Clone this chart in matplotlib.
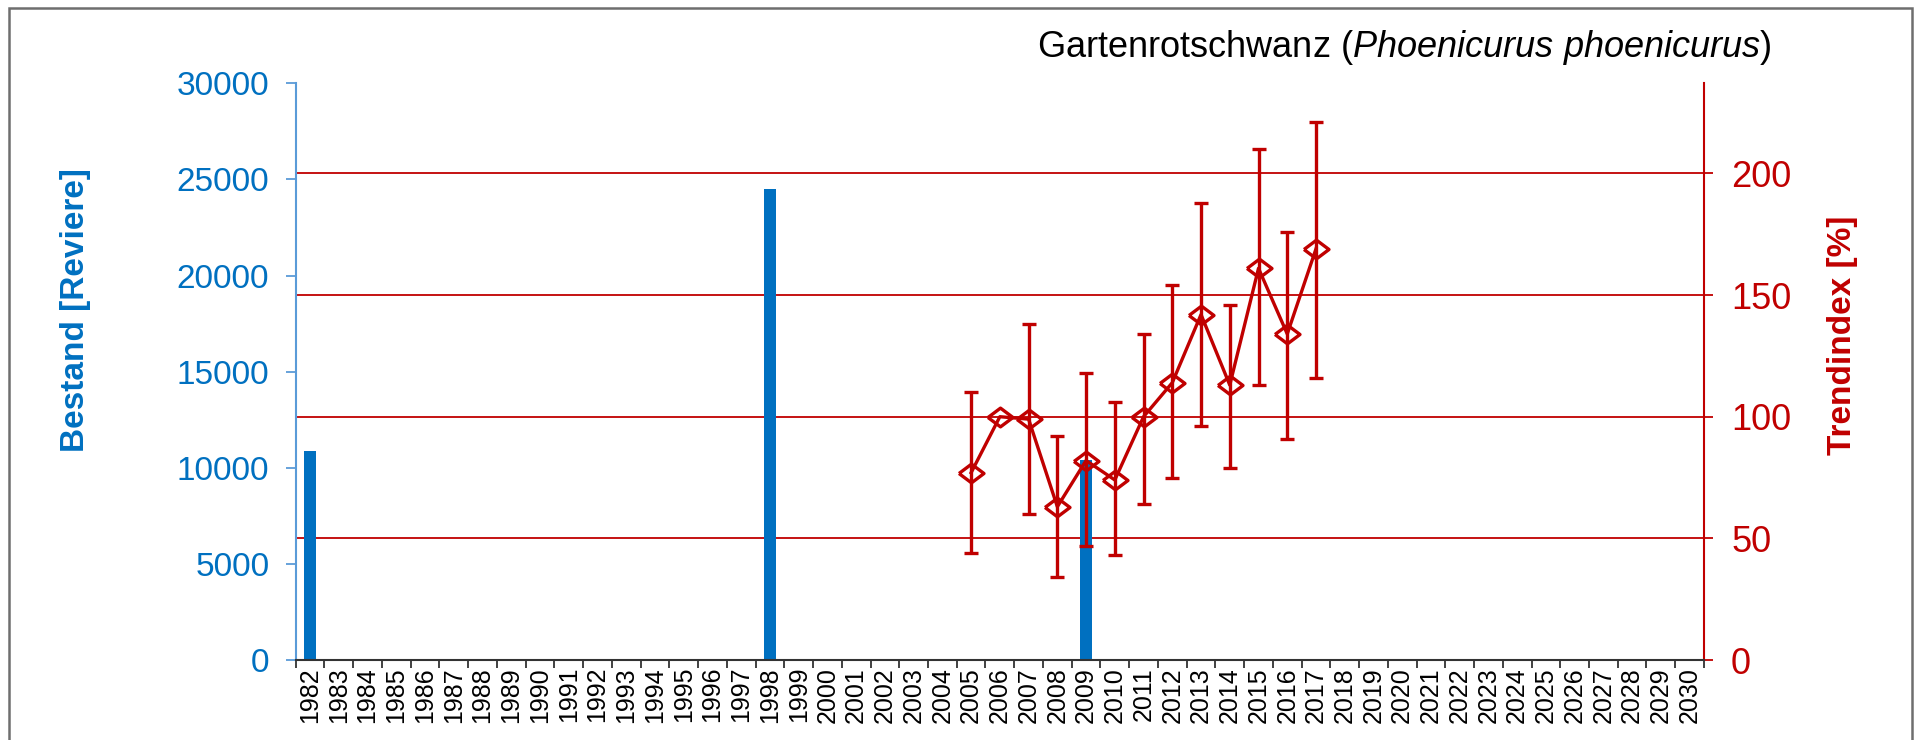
# -*- coding: utf-8 -*-
"""Gartenrotschwanz: Bestand (bars) und Trendindex (line with error bars)"""

import matplotlib.pyplot as plt
import matplotlib.patches as mpatches
import numpy as np

# Data
years = [str(y) for y in range(1982, 2031)]

bar_years = [1982, 1998, 2009]
bar_values = [10900, 24500, 10400]

trend_years = [2005, 2006, 2007, 2008, 2009, 2010, 2011,
               2012, 2013, 2014, 2015, 2016, 2017]
trend_values = [77, 100, 99, 63, 82, 74, 100, 114, 142, 113, 161, 134, 169]
trend_upper = [110, np.nan, 138, 92, 118, 106, 134, 154, 188, 146, 210, 176, 221]
trend_lower = [44, np.nan, 60, 34, 47, 43, 64, 75, 96, 79, 113, 91, 116]

left_ticks = [0, 5000, 10000, 15000, 20000, 25000, 30000]
right_ticks = [0, 50, 100, 150, 200]

# Colours
blue = "#0070C0"
blue_spine = "#5A9BD8"
red = "#C00000"

plt.rcParams["font.family"] = ["Liberation Sans", "DejaVu Sans"]
plt.rcParams["mathtext.fontset"] = "custom"
plt.rcParams["mathtext.rm"] = "Liberation Sans"
plt.rcParams["mathtext.it"] = "Liberation Sans:italic"

fig = plt.figure(figsize=(19.28, 7.40), dpi=100)
ax = fig.add_axes([0.1534, 0.1081, 0.7304, 0.7792])
ax_r = ax.twinx()
ax_top = ax.twinx()

# Layer order: right-axis gridlines < bars < trend series
ax_r.set_zorder(0)
ax.set_zorder(1)
ax.patch.set_visible(False)
ax_top.set_zorder(2)

# Bars (left scale)
bar_x = [years.index(str(y)) for y in bar_years]
ax.bar(bar_x, bar_values, width=0.42, color=blue, zorder=2)

ax.set_xlim(-0.5, len(years) - 0.5)
ax.set_ylim(0, 30000)
ax.set_yticks(left_ticks)
ax.set_xticks(range(len(years)))
ax.set_xticklabels(years, rotation=90, fontsize=18)
ax.set_xticks(np.arange(-0.5, len(years), 1), minor=True)
ax.tick_params(axis="x", which="major", length=0, pad=5, colors="black")
ax.tick_params(axis="x", which="minor", length=6, width=1.3,
               direction="out", color="#333333")
ax.tick_params(axis="y", length=7, width=1.3, color=blue_spine,
               labelcolor=blue, labelsize=24, pad=12)
for side in ("top", "right"):
    ax.spines[side].set_visible(False)
ax.spines["left"].set_color(blue_spine)
ax.spines["left"].set_linewidth(1.5)
ax.spines["bottom"].set_color("#333333")
ax.spines["bottom"].set_linewidth(1.5)

# Right axis with red gridlines
ax_r.set_ylim(0, 237)
ax_r.set_yticks(right_ticks)
ax_r.yaxis.grid(True, color=red, linewidth=1.3)
ax_r.tick_params(axis="y", length=6.5, width=1.3, color=red,
                 labelcolor=red, labelsize=26, pad=13)
for side in ("top", "left", "bottom"):
    ax_r.spines[side].set_visible(False)
ax_r.spines["right"].set_color(red)
ax_r.spines["right"].set_linewidth(1.5)

# Trend series on top
trend_x = [years.index(str(y)) for y in trend_years]
vals = np.array(trend_values, dtype=float)
yerr = [vals - np.array(trend_lower), np.array(trend_upper) - vals]
diamond = [(-1, 0), (0, 0.75), (1, 0), (0, -0.75), (-1, 0)]
ax_top.errorbar(trend_x, vals, yerr=yerr, color=red, linewidth=2.4,
                elinewidth=2.4, capsize=5, capthick=2.4,
                marker=diamond, markersize=18, markerfacecolor="none",
                markeredgecolor=red, markeredgewidth=2.4)
ax_top.set_xlim(ax.get_xlim())
ax_top.set_ylim(ax_r.get_ylim())
ax_top.axis("off")

# Axis titles and chart title
fig.text(0.0394, 0.581, "Bestand [Reviere]", rotation=90, color=blue,
         fontsize=24, fontweight="bold", ha="center", va="center")
fig.text(0.9554, 0.547, "Trendindex [%]", rotation=90, color=red,
         fontsize=24, fontweight="bold", ha="center", va="center")
fig.text(1037 / 1928, 1 - 57 / 740,
         r"Gartenrotschwanz ($\mathit{Phoenicurus\ phoenicurus}$)",
         fontsize=26, color="black", ha="left", va="baseline")

# Outer chart frame
frame = mpatches.Rectangle((9 / 1928, -0.02), 1903 / 1928, 1.02 - 8 / 740,
                           transform=fig.transFigure, fill=False,
                           edgecolor="#6e6e6e", linewidth=1.8)
fig.patches.append(frame)

fig.savefig("out.png", dpi=100)
